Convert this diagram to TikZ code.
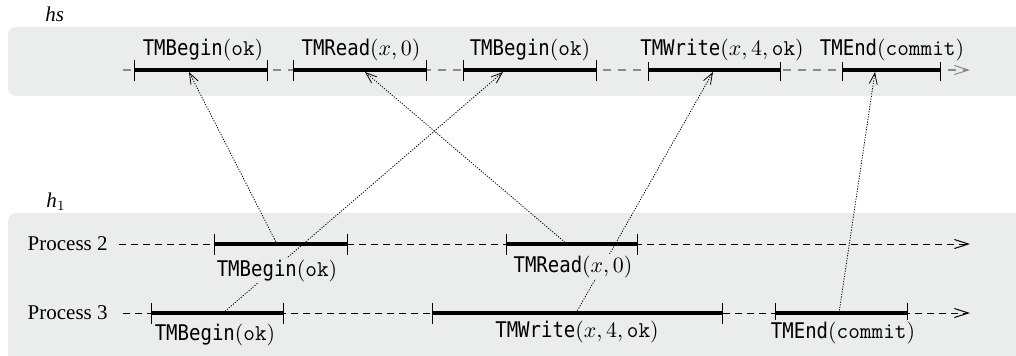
\documentclass[tikz,border=0pt]{standalone}
\usepackage{fontspec}
\setmainfont{Liberation Serif}
\newfontfamily\tmfont{DejaVu Sans Mono}[FakeStretch=0.88]
\usetikzlibrary{arrows.meta}
\definecolor{band}{HTML}{EBECEC}
\definecolor{dgray}{HTML}{8A8A8A}
\newcommand{\tmop}[2]{{\tmfont #1}$(#2)$}
\newcommand{\tmtt}[1]{\mbox{\fontsize{11.3}{12}\selectfont\ttfamily #1}}
\begin{document}
\begin{tikzpicture}[x=0.5pt,y=-0.5pt,font=\fontsize{10}{12}\selectfont,
  bandbox/.style={fill=band,rounded corners=4pt},
  hsline/.style={dgray,line width=0.6pt,dash pattern=on 4pt off 3.5pt,-{Straight Barb[length=7pt,width=4.5pt,line width=0.5pt]}},
  procline/.style={black,line width=0.4pt,dash pattern=on 3.5pt off 2.5pt,-{Straight Barb[length=7pt,width=4.5pt,line width=0.5pt]}},
  opseg/.style={line width=1.6pt,black},
  optick/.style={line width=0.5pt,black},
  conn/.style={line width=0.4pt,dash pattern=on 0.6pt off 0.7pt,-{Straight Barb[length=5.5pt,width=4pt,line width=0.4pt]}},
  oplab/.style={fill=band,inner sep=1pt,anchor=base,font=\fontsize{10.8}{12}\selectfont},
  hlab/.style={anchor=base west,inner sep=0pt,font=\fontsize{10.5}{12}\selectfont},
  plab/.style={anchor=east,inner sep=0pt,font=\fontsize{10.5}{12}\selectfont}]
\clip (0,0) rectangle (1016,355);
\useasboundingbox (0,0) rectangle (1016,355);
% bands
\fill[bandbox] (8,27) rectangle (1060,96);
\fill[bandbox] (8,213) rectangle (1060,400);
% history labels
\node[hlab] (hs) at (45,21) {\textit{hs}};
\node[hlab] (h1) at (46,207) {\textit{h}$_1$};
\node[plab] (p2) at (108,244) {Process 2};
\node[plab] (p3) at (108,313) {Process 3};
% timelines
\coordinate (hsA) at (123,70);  \coordinate (hsZ) at (970,70);
\coordinate (p2A) at (119,244); \coordinate (p2Z) at (970,244);
\coordinate (p3A) at (123,313); \coordinate (p3Z) at (970,313);
\draw[hsline] (hsA) -- (hsZ);
\draw[procline] (p2A) -- (p2Z);
\draw[procline] (p3A) -- (p3Z);
% operation segments
\foreach \n/\a/\b/\y in {t1/134/267/70, t2/293/426/70, t3/463/596/70, t4/648/780/70, t5/842/940/70,
                         a1/214/347/244, a2/506/637/244,
                         b1/151/283/313, b2/432/722/313, b3/775/907/313}{
  \coordinate (\n s) at (\a,\y);
  \coordinate (\n e) at (\b,\y);
  \draw[opseg] (\n s) -- (\n e);
  \draw[optick] ([yshift=5.25pt]\n s) -- ([yshift=-5.25pt]\n s);
  \draw[optick] ([yshift=5.25pt]\n e) -- ([yshift=-5.25pt]\n e);
}
% connector anchors
\coordinate (c1s) at (277,244); \coordinate (c1e) at (189,72);
\coordinate (c2s) at (567,244); \coordinate (c2e) at (365,72);
\coordinate (c3s) at (223,313); \coordinate (c3e) at (503,72);
\coordinate (c4s) at (576,313); \coordinate (c4e) at (713,72);
\coordinate (c5s) at (839,313); \coordinate (c5e) at (875,72);
\draw[conn] (c1s) -- (c1e);
\draw[conn] (c2s) -- (c2e);
\draw[conn] (c3s) -- (c3e);
\draw[conn] (c4s) -- (c4e);
\draw[conn] (c5s) -- (c5e);
% labels
\node[oplab] (l1) at (203,55) {\tmop{TMBegin}{\tmtt{ok}}};
\node[oplab] (l2) at (361,55) {\tmop{TMRead}{x,0}};
\node[oplab] (l3) at (530,55) {\tmop{TMBegin}{\tmtt{ok}}};
\node[oplab] (l4) at (722,55) {\tmop{TMWrite}{x,4,\tmtt{ok}}};
\node[oplab] (l5) at (892,55) {\tmop{TMEnd}{\tmtt{commit}}};
\node[oplab] (m1) at (277,276) {\tmop{TMBegin}{\tmtt{ok}}};
\node[oplab] (m2) at (573,272) {\tmop{TMRead}{x,0}};
\node[oplab] (m3) at (215,340) {\tmop{TMBegin}{\tmtt{ok}}};
\node[oplab] (m4) at (577,337) {\tmop{TMWrite}{x,4,\tmtt{ok}}};
\node[oplab] (m5) at (843,338) {\tmop{TMEnd}{\tmtt{commit}}};
\end{tikzpicture}
\end{document}
